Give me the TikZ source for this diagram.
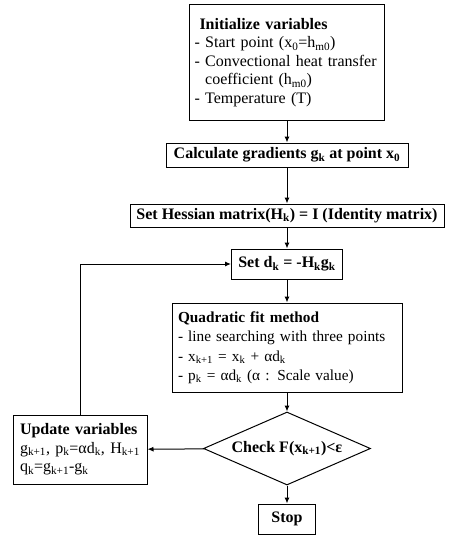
\documentclass[tikz,border=0pt]{standalone}
\usepackage{fontspec}
\setmainfont{Liberation Serif}
\usetikzlibrary{arrows.meta,shapes.geometric}
\newcommand{\sbs}[1]{\textsubscript{#1}}
\begin{document}
\begin{tikzpicture}[x=1pt,y=-1pt,
  box/.style={draw, line width=1pt, rectangle, inner xsep=2pt, inner ysep=1pt,
    font=\fontsize{16}{18.5}\selectfont},
  txtbox/.style={box, align=left},
  dia/.style={draw, line width=1pt, diamond, inner sep=0pt},
  lbl/.style={font=\fontsize{16}{18.5}\selectfont\bfseries, inner sep=0pt},
  arr/.style={line width=1pt, -{Latex[length=6pt,width=5pt]}}]
\useasboundingbox (0,0) rectangle (455,535);

\node[txtbox, text width=185pt, minimum width=195pt, minimum height=115pt] (init) at (287,62.5)
  {\hspace*{5pt}\textbf{Initialize variables}\\
   - Start point (x\sbs{0}=h\sbs{m0})\\
   - Convectional heat transfer\\
   \phantom{- }coefficient (h\sbs{m0})\\
   - Temperature (T)};

\node[box, font=\fontsize{16}{18.5}\selectfont\bfseries, minimum width=242pt, minimum height=24pt] (calc) at (287,155)
  {Calculate gradients g\sbs{k} at point x\sbs{0}};

\node[box, font=\fontsize{16}{18.5}\selectfont\bfseries, minimum width=314pt, minimum height=23pt] (hess) at (287,215.5)
  {Set Hessian matrix(H\sbs{k}) = I (Identity matrix)};

\node[box, font=\fontsize{16}{18.5}\selectfont\bfseries, minimum width=111pt, minimum height=30pt] (dk) at (287,264)
  {Set d\sbs{k} = -H\sbs{k}g\sbs{k}};

\node[txtbox, font=\fontsize{15.3}{19.5}\selectfont, text width=218pt, minimum width=230pt, minimum height=89pt] (quad) at (287,347.5)
  {\textbf{Quadratic fit method}\\
   - line searching with three points\\
   - x\sbs{k+1} = x\sbs{k} + αd\sbs{k}\\
   - p\sbs{k} = αd\sbs{k} (α : Scale value)};

\node[dia, minimum width=167pt, minimum height=73pt] (chk) at (287,448.5) {};
\node[lbl] (chktxt) at (chk.center) {Check F(x\sbs{k+1})<ε};

\node[txtbox, text width=120pt, minimum width=134pt, minimum height=69pt] (upd) at (80,449.5)
  {\textbf{Update variables}\\
   g\sbs{k+1}, p\sbs{k}=αd\sbs{k}, H\sbs{k+1}\\
   q\sbs{k}=g\sbs{k+1}-g\sbs{k}};

\node[box, font=\fontsize{16}{18.5}\selectfont\bfseries, minimum width=57pt, minimum height=30pt] (stop) at (287,519)
  {Stop};

\draw[arr] (init) -- (calc);
\draw[arr] (calc) -- (hess);
\draw[arr] (hess) -- (dk);
\draw[arr] (dk) -- (quad);
\draw[arr] (quad) -- (chk);
\draw[arr] (chk) -- (stop);
\draw[arr] (chk) -- (upd);
\draw[arr] (upd.north) |- (dk.west);
\end{tikzpicture}
\end{document}
